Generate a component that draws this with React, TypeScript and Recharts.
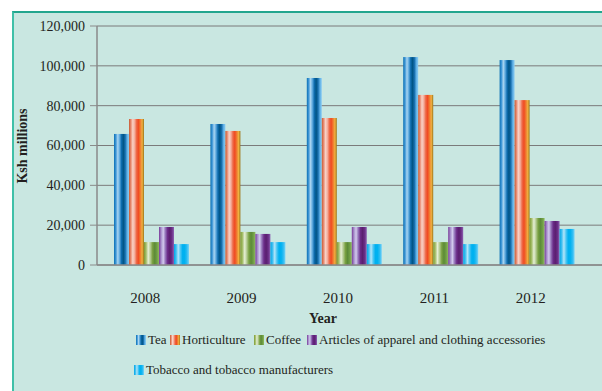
import { BarChart, Bar, XAxis, YAxis, CartesianGrid } from "recharts";

const years = ["2008", "2009", "2010", "2011", "2012"];
const tea = [65800, 70800, 93900, 104400, 102900];
const horticulture = [73300, 67300, 73800, 85400, 82800];
const coffee = [11500, 16600, 11500, 11500, 23600];
const apparel = [19100, 15600, 19100, 19100, 22100];
const tobacco = [10500, 11500, 10500, 10500, 18100];
const yTicks = [0, 20000, 40000, 60000, 80000, 100000, 120000];
const boundaryTicks = [0, 1, 2, 3, 4, 5];

const FONT = "'Liberation Serif', 'DejaVu Serif', serif";
const INK = "#231f20";

// cylinder-ish stripes, left to right
const series = [
  {
    key: "tea",
    name: "Tea",
    stops: ["#0b70b4", "#3f97d6", "#a9d5f1", "#5ca8dd", "#0d6cae", "#005485", "#176fae", "#5fb0e6", "#8ccdf2"],
  },
  {
    key: "horticulture",
    name: "Horticulture",
    stops: ["#c65a32", "#e88b72", "#f9d2c6", "#f4ad9c", "#ee6a48", "#f04a22", "#f07a30", "#f0b040", "#9c7418"],
  },
  {
    key: "coffee",
    name: "Coffee",
    stops: ["#7c9a32", "#a6bf6c", "#e6efd6", "#b2ca90", "#78a040", "#5c8a38", "#6f9e44", "#8fba5e"],
  },
  {
    key: "apparel",
    name: "Articles of apparel and clothing accessories",
    stops: ["#783898", "#a68fcb", "#d2caed", "#9474ba", "#6b2b88", "#5a1f70", "#6a2d86", "#8d63b2"],
  },
  {
    key: "tobacco",
    name: "Tobacco and tobacco manufacturers",
    stops: ["#00a6e6", "#3fbff0", "#b2e5f9", "#4cc6f2", "#00b0f0", "#00b2f0", "#2cbcf2", "#7ad3f6"],
  },
];

const data = years.map((year, i) => ({
  year,
  tea: tea[i],
  horticulture: horticulture[i],
  coffee: coffee[i],
  apparel: apparel[i],
  tobacco: tobacco[i],
}));

const cssGradient = (stops: string[]) =>
  `linear-gradient(to right, ${stops
    .map((c, i) => `${c} ${(i / (stops.length - 1)) * 100}%`)
    .join(", ")})`;

// Excel draws the clusters slightly right of the category centre
const ShiftedBar = (props: any) => {
  const { x, y, width, height, fill } = props;
  if (!height || height <= 0) return null;
  return <rect x={x + 6} y={y} width={width} height={height} fill={fill} />;
};

const legendRows = [
  [
    { s: series[0], left: 136 },
    { s: series[1], left: 170 },
    { s: series[2], left: 254 },
    { s: series[3], left: 307 },
  ],
  [{ s: series[4], left: 134 }],
];

export default function App() {
  return (
    <div
      style={{
        position: "absolute",
        left: 0,
        top: 0,
        width: 602,
        height: 391,
        background: "#fff",
        overflow: "hidden",
        fontFamily: FONT,
      }}
    >
      <div
        style={{
          position: "absolute",
          left: 12,
          top: 11,
          width: 620,
          height: 400,
          background: "#c9e7e1",
          borderLeft: "2px solid #3fc0a8",
          borderTop: "2px solid #22a68e",
        }}
      />
      <div style={{ position: "absolute", left: 0, top: 0 }}>
        <BarChart
          width={602}
          height={391}
          data={data}
          margin={{ top: 26, right: 0, left: 0, bottom: 96 }}
          barGap={0}
        >
          <defs>
            {series.map((s) => (
              <linearGradient key={s.key} id={`g-${s.key}`} x1="0" y1="0" x2="1" y2="0">
                {s.stops.map((c, i) => (
                  <stop key={i} offset={i / (s.stops.length - 1)} stopColor={c} />
                ))}
              </linearGradient>
            ))}
          </defs>
          <CartesianGrid vertical={false} stroke="#7b7b7b" strokeWidth={1} />
          <XAxis
            xAxisId="bounds"
            type="number"
            domain={[0, 5]}
            ticks={boundaryTicks}
            padding={{ left: 0, right: 23 }}
            height={0}
            axisLine={false}
            tickLine={{ stroke: "#8a8a8a" }}
            tickSize={5}
            tick={() => <g />}
          />
          <XAxis
            dataKey="year"
            height={30}
            padding={{ left: 0, right: 23 }}
            axisLine={{ stroke: "#8a8a8a", strokeWidth: 1.5 }}
            tickLine={false}
            tickSize={0}
            tickMargin={27}
            tick={{ fontSize: 15, fill: INK, fontFamily: FONT }}
            label={{
              content: () => (
                <text
                  x={323}
                  y={323}
                  textAnchor="middle"
                  fontSize={14}
                  fontWeight="bold"
                  fill={INK}
                  fontFamily={FONT}
                >
                  Year
                </text>
              ),
            }}
          />
          <YAxis
            width={97}
            domain={[0, 120000]}
            ticks={yTicks}
            interval={0}
            axisLine={{ stroke: "#8a8a8a", strokeWidth: 1.5 }}
            tickLine={{ stroke: "#8a8a8a" }}
            tickSize={7}
            tickMargin={5}
            tick={{ fontSize: 14, fill: INK, fontFamily: FONT }}
            tickFormatter={(v: number) => v.toLocaleString("en-US")}
            label={{
              content: () => (
                <text
                  x={27}
                  y={146}
                  transform="rotate(-90 27 146)"
                  textAnchor="middle"
                  fontSize={14}
                  fontWeight="bold"
                  fill={INK}
                  fontFamily={FONT}
                >
                  Ksh millions
                </text>
              ),
            }}
          />
          {series.map((s) => (
            <Bar
              key={s.key}
              dataKey={s.key}
              name={s.name}
              fill={`url(#g-${s.key})`}
              barSize={15}
              shape={ShiftedBar}
              isAnimationActive={false}
            />
          ))}
        </BarChart>
      </div>
      {legendRows.map((row, r) =>
        row.map(({ s, left }) => (
          <div
            key={s.key}
            style={{
              position: "absolute",
              left,
              top: r === 0 ? 331 : 361,
              display: "flex",
              alignItems: "center",
              fontSize: 13,
              color: INK,
              whiteSpace: "nowrap",
              lineHeight: "17px",
            }}
          >
            <span
              style={{
                display: "inline-block",
                width: 10,
                height: 10,
                marginRight: 2,
                background: cssGradient(s.stops),
              }}
            />
            {s.name}
          </div>
        ))
      )}
    </div>
  );
}
